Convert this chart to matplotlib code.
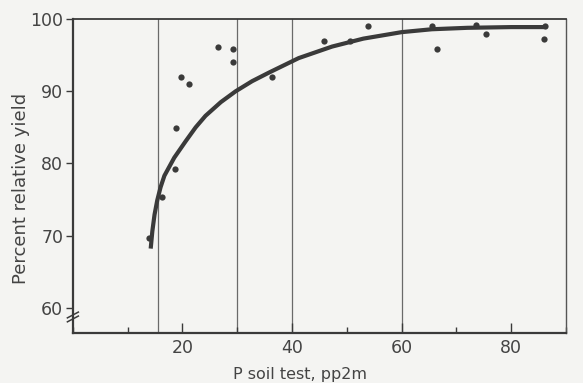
import matplotlib
matplotlib.use("Agg")
import matplotlib.pyplot as plt
from matplotlib.ticker import MultipleLocator

# soil-test points (P, ppm) and relative yield (%)
p_soil = [13.9, 16.2, 18.6, 18.8, 19.7, 21.1, 26.5, 29.2, 29.2, 36.4,
          45.9, 50.6, 53.8, 65.5, 66.5, 73.5, 75.3, 86.2, 86.0]
rel_yield = [69.6, 75.3, 79.3, 84.9, 92.0, 91.0, 96.1, 95.8, 94.1, 92.0,
             97.0, 97.0, 99.0, 99.1, 95.8, 99.2, 97.9, 99.0, 97.3]

# fitted response curve
curve_x = [14.2, 14.5, 14.9, 15.4, 16.0, 16.7, 18.5, 20.6, 22.4, 24.2, 27.0,
           29.7, 32.7, 35.8, 41.2, 47.3, 53.0, 60.0, 65.5, 72.0, 80.0, 86.0]
curve_y = [68.2, 70.6, 72.9, 74.9, 76.7, 78.3, 80.8, 83.1, 85.0, 86.6, 88.5,
           90.0, 91.4, 92.6, 94.6, 96.2, 97.3, 98.2, 98.6, 98.8, 98.9, 98.9]

# vertical division lines
divisions = [15.6, 30, 40, 60]

ink = "#3a3a3a"
paper = "#f4f4f2"

fig = plt.figure(figsize=(5.83, 3.83), dpi=100, facecolor=paper)
ax = fig.add_axes([0.125, 0.1305, 0.846, 0.8195], facecolor=paper)

for xv in divisions:
    ax.axvline(xv, color="#6a6a6a", lw=0.9, zorder=1)

ax.plot(curve_x, curve_y, color=ink, lw=3.0, solid_capstyle="butt",
        solid_joinstyle="round", zorder=3)
ax.plot(p_soil, rel_yield, "o", color=ink, ms=4.5, mec="none", zorder=4)

ax.set_xlim(0, 90)
ax.set_ylim(56.5, 100)
ax.set_yticks([60, 70, 80, 90, 100])
ax.xaxis.set_major_locator(MultipleLocator(20))
ax.xaxis.set_minor_locator(MultipleLocator(10))
ax.set_xticks([20, 40, 60, 80])

ax.tick_params(axis="y", direction="out", length=5, width=1, color=ink,
               labelsize=12.5, labelcolor="#444444", pad=2)
ax.tick_params(axis="x", which="major", direction="in", length=7, width=1,
               color=ink, labelsize=12.5, labelcolor="#444444", pad=4)
ax.tick_params(axis="x", which="minor", direction="in", length=4, width=1,
               color=ink)

for side in ["left", "bottom"]:
    ax.spines[side].set_color(ink)
    ax.spines[side].set_linewidth(1.6)
ax.spines["top"].set_color(ink)
ax.spines["top"].set_linewidth(1.3)
ax.spines["right"].set_color("#555555")
ax.spines["right"].set_linewidth(1.0)

# axis break marks
for yc in (59.0, 58.45):
    ax.plot([-1.0, 1.0], [yc - 0.4, yc + 0.4], color=ink, lw=1.1,
            clip_on=False, zorder=5)

ax.set_ylabel("Percent relative yield", fontsize=13, color="#444444")
ax.set_xlabel("P soil test, pp2m", fontsize=11.5, color="#444444")
ax.yaxis.set_label_coords(-0.087, 0.46)
ax.xaxis.set_label_coords(0.46, -0.108)

fig.savefig("out.png", dpi=100, facecolor=paper)
